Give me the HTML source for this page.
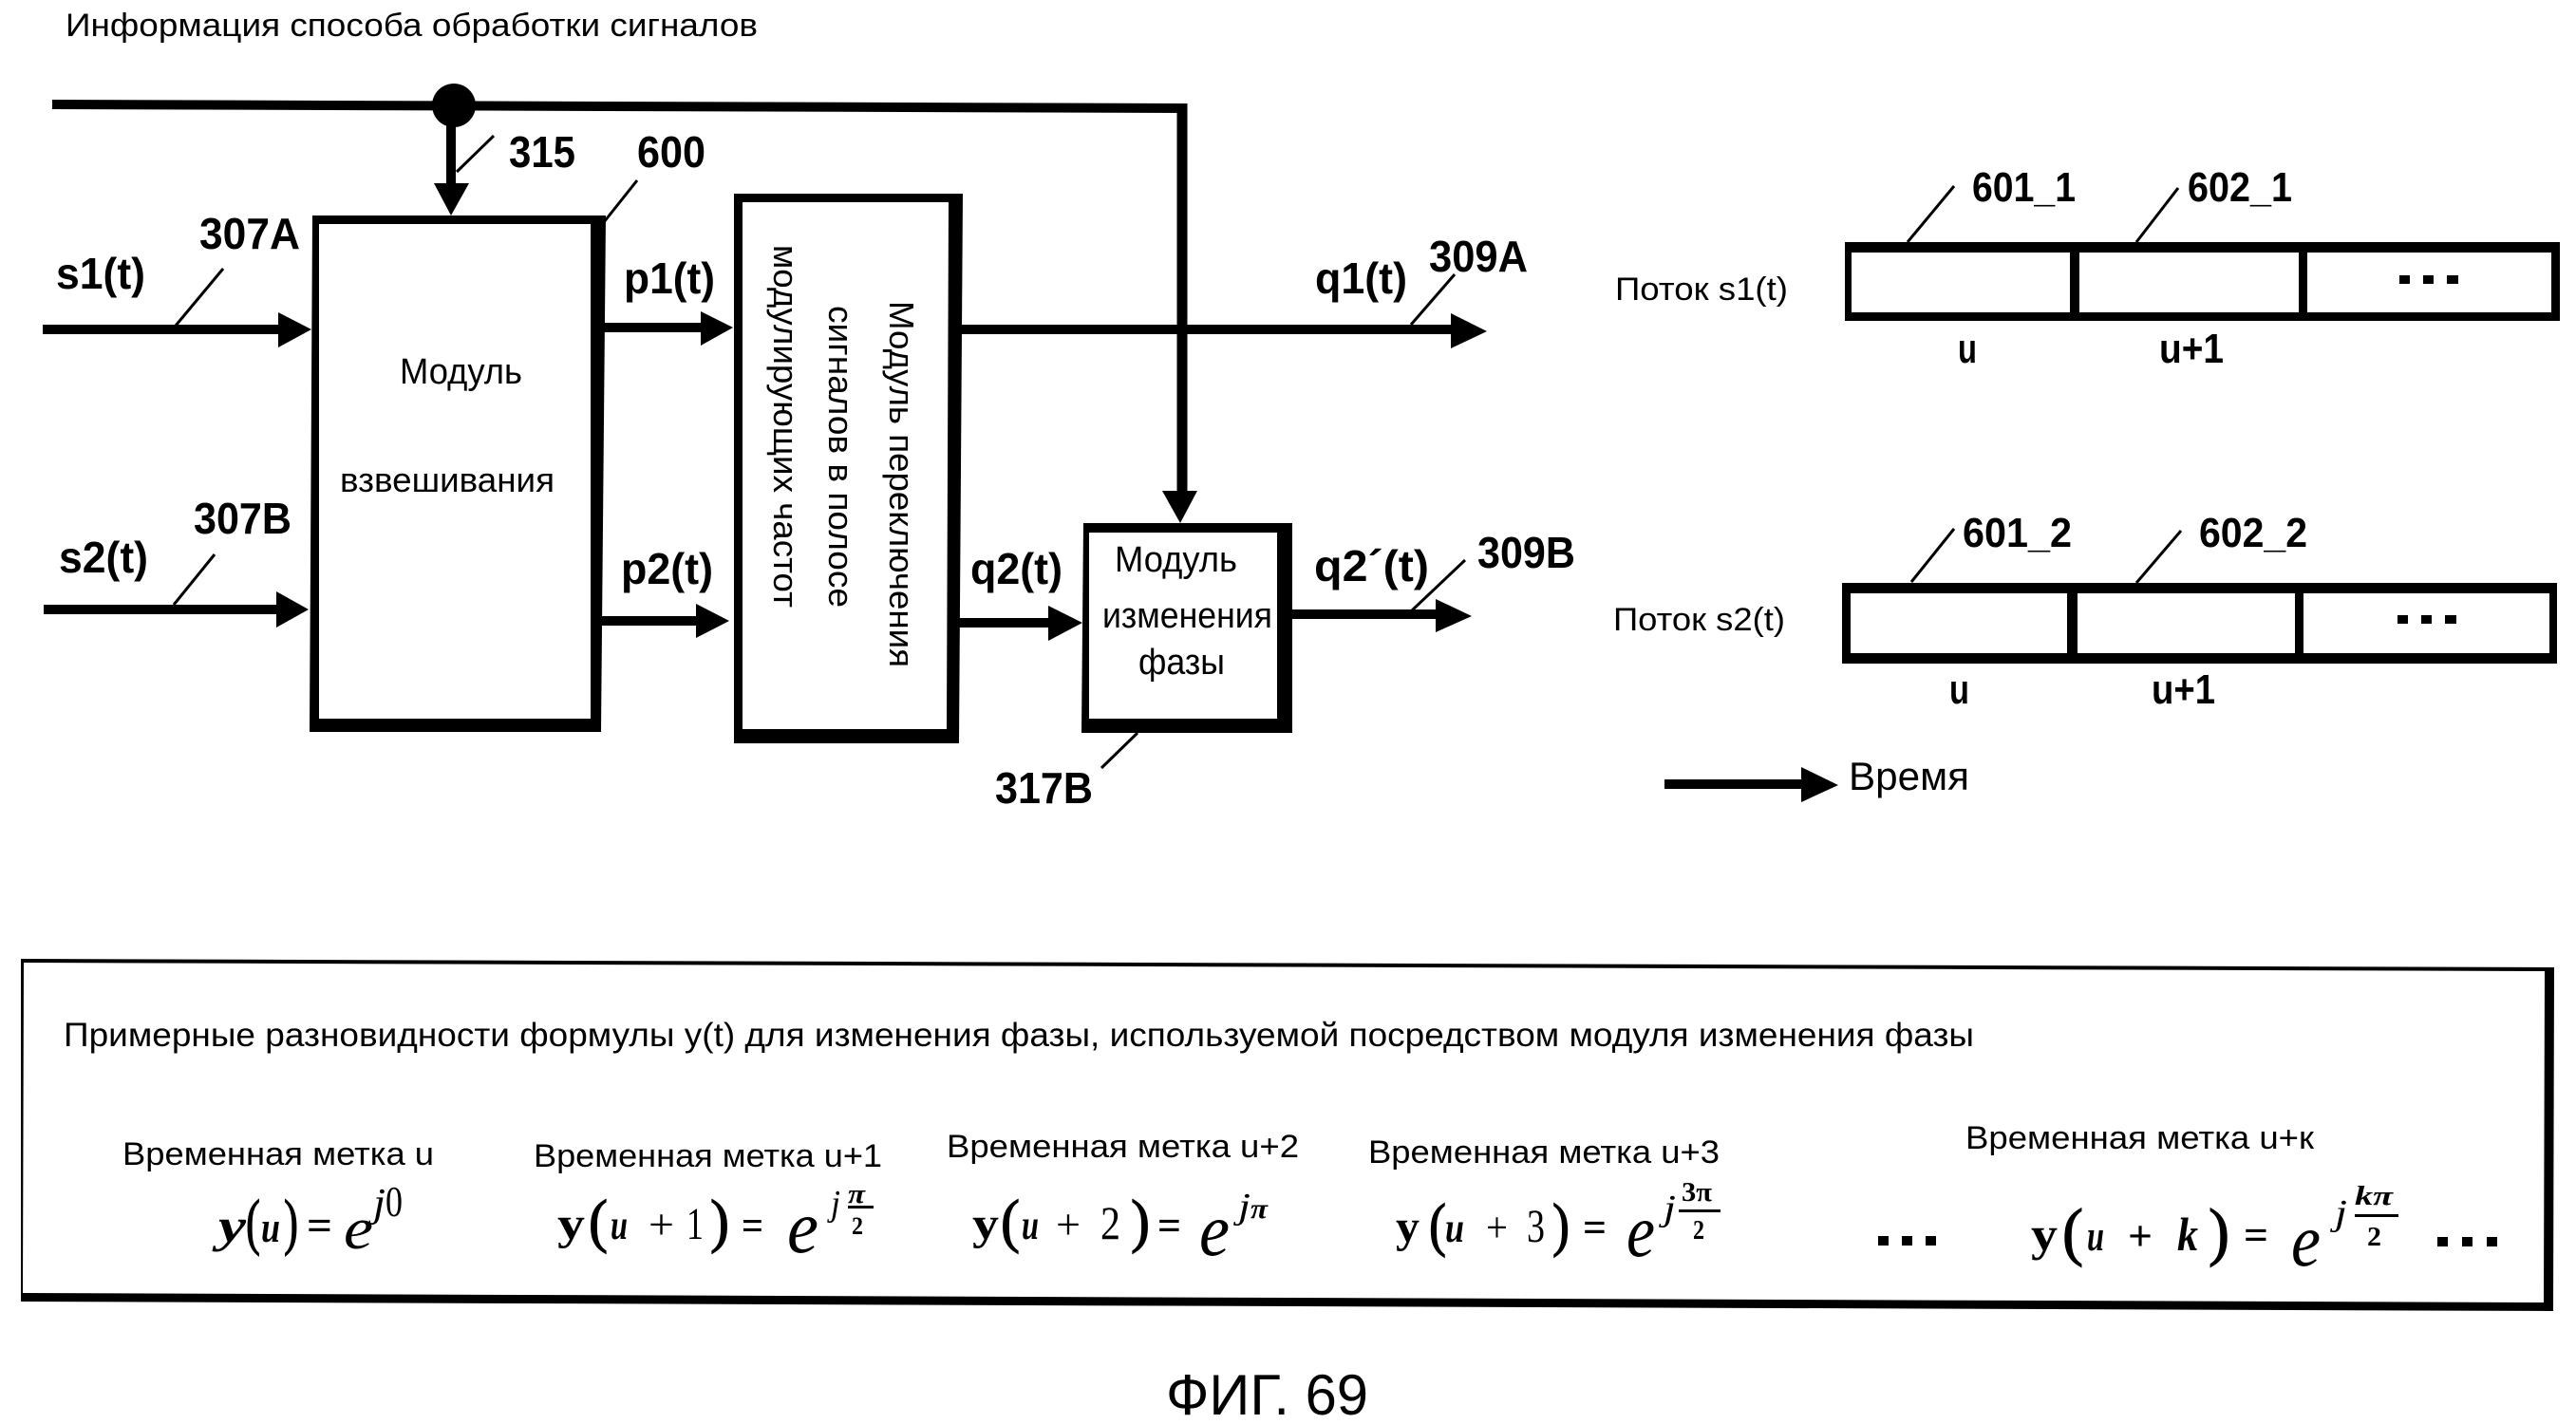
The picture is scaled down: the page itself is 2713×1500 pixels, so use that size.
<!DOCTYPE html>
<html lang="ru">
<head>
<meta charset="utf-8">
<title>ФИГ. 69</title>
<style>
html,body{margin:0;padding:0;background:#fff}
svg{display:block;font-size:36px}
text{fill:#000}
.r{font-family:"Liberation Sans",sans-serif}
.b{font-family:"Liberation Sans",sans-serif;font-weight:bold}
.s{font-family:"Liberation Serif",serif}
.i{font-style:italic}
.w{font-weight:bold}
.p{stroke:#000;stroke-width:1.2}
.l{stroke:#000;stroke-width:3;fill:none}
</style>
</head>
<body>
<svg xmlns="http://www.w3.org/2000/svg" width="2713" height="1500" viewBox="0 0 2713 1500">
<rect width="2713" height="1500" fill="#fff"/>

<text class="r" x="69" y="38" font-size="34" textLength="729" lengthAdjust="spacingAndGlyphs">Информация способа обработки сигналов</text>

<!-- control line -->
<path d="M55 110 L1250 114" stroke="#000" stroke-width="10" fill="none"/>
<path d="M1245 109 V525" stroke="#000" stroke-width="11" fill="none"/>
<polygon points="1224,517 1261,517 1243,551"/>
<circle cx="478" cy="111" r="23"/>
<path d="M475 111 V200" stroke="#000" stroke-width="10" fill="none"/>
<polygon points="457,193 494,193 475,227"/>
<path class="l" d="M481 181 L520 143"/>
<text class="b" font-size="46" x="536" y="176" textLength="70" lengthAdjust="spacingAndGlyphs">315</text>
<text class="b" font-size="46" x="671" y="176" textLength="72" lengthAdjust="spacingAndGlyphs">600</text>
<path class="l" d="M671 190 L636 234"/>

<!-- weight box -->
<path fill-rule="evenodd" d="M329 227 H638 L633 771 H326 Z M336 236 V757 H622 V236 Z"/>
<text class="r" x="421" y="404" font-size="38" textLength="129" lengthAdjust="spacingAndGlyphs">Модуль</text>
<text class="r" x="358" y="518" font-size="36" textLength="226" lengthAdjust="spacingAndGlyphs">взвешивания</text>

<!-- inputs -->
<text class="b" font-size="46" x="59" y="304" textLength="94" lengthAdjust="spacingAndGlyphs">s1(t)</text>
<text class="b" font-size="46" x="210" y="262" textLength="106" lengthAdjust="spacingAndGlyphs">307A</text>
<path class="l" d="M235 283 L185 343"/>
<path d="M45 347 H300" stroke="#000" stroke-width="10" fill="none"/>
<polygon points="293,329 328,347 293,366"/>
<text class="b" font-size="46" x="62" y="603" textLength="94" lengthAdjust="spacingAndGlyphs">s2(t)</text>
<text class="b" font-size="46" x="204" y="562" textLength="103" lengthAdjust="spacingAndGlyphs">307B</text>
<path class="l" d="M226 584 L183 637"/>
<path d="M46 642 H298" stroke="#000" stroke-width="10" fill="none"/>
<polygon points="291,623 325,642 291,661"/>

<!-- outputs of weight -->
<text class="b" font-size="46" x="657" y="309" textLength="96" lengthAdjust="spacingAndGlyphs">p1(t)</text>
<path d="M636 345 H745" stroke="#000" stroke-width="10" fill="none"/>
<polygon points="738,328 772,345 738,364"/>
<text class="b" font-size="46" x="654" y="615" textLength="97" lengthAdjust="spacingAndGlyphs">p2(t)</text>
<path d="M631 654 H740" stroke="#000" stroke-width="10" fill="none"/>
<polygon points="733,636 768,654 733,672"/>

<!-- switch box -->
<path fill-rule="evenodd" d="M773 204 H1014 L1010 783 H773 Z M782 213 V768 H997 L999 213 Z"/>
<text class="r" transform="translate(937 317) rotate(90)" textLength="386" lengthAdjust="spacingAndGlyphs">Модуль переключения</text>
<text class="r" transform="translate(873 322) rotate(90)" textLength="318" lengthAdjust="spacingAndGlyphs">сигналов в полосе</text>
<text class="r" transform="translate(815 258) rotate(90)" textLength="382" lengthAdjust="spacingAndGlyphs">модулирующих частот</text>

<!-- q1 -->
<path d="M1012 347 H1535" stroke="#000" stroke-width="10" fill="none"/>
<polygon points="1528,330 1566,349 1528,367"/>
<text class="b" font-size="46" x="1385" y="309" textLength="97" lengthAdjust="spacingAndGlyphs">q1(t)</text>
<text class="b" font-size="46" x="1505" y="286" textLength="104" lengthAdjust="spacingAndGlyphs">309A</text>
<path class="l" d="M1532 289 L1486 342"/>

<!-- phase box -->
<path fill-rule="evenodd" d="M1141 551 H1361 V772 H1139 Z M1147 561 V757 H1345 V561 Z"/>
<text class="r" x="1174" y="602" font-size="38" textLength="129" lengthAdjust="spacingAndGlyphs">Модуль</text>
<text class="r" x="1161" y="661" font-size="38" textLength="179" lengthAdjust="spacingAndGlyphs">изменения</text>
<text class="r" x="1199" y="710" font-size="38" textLength="91" lengthAdjust="spacingAndGlyphs">фазы</text>
<text class="b" font-size="46" x="1022" y="615" textLength="97" lengthAdjust="spacingAndGlyphs">q2(t)</text>
<path d="M1008 656 H1110" stroke="#000" stroke-width="10" fill="none"/>
<polygon points="1104,638 1140,656 1104,675"/>
<text class="b" font-size="46" x="1384" y="612" textLength="121" lengthAdjust="spacingAndGlyphs">q2´(t)</text>
<text class="b" font-size="46" x="1556" y="598" textLength="103" lengthAdjust="spacingAndGlyphs">309B</text>
<path class="l" d="M1543 590 L1487 643"/>
<path d="M1358 647 H1518" stroke="#000" stroke-width="10" fill="none"/>
<polygon points="1512,631 1550,649 1512,666"/>
<text class="b" font-size="46" x="1048" y="846" textLength="103" lengthAdjust="spacingAndGlyphs">317B</text>
<path class="l" d="M1198 772 L1160 809"/>

<!-- stream 1 -->
<text class="r" x="1701" y="316" font-size="34" textLength="182" lengthAdjust="spacingAndGlyphs">Поток s1(t)</text>
<path fill-rule="evenodd" d="M1943 255 H2696 V338 H1943 Z M1950 266 V329 H2180 V266 Z M2190 266 V329 H2421 V266 Z M2430 266 V329 H2687 V266 Z"/>
<rect x="2527" y="290" width="11" height="9"/><rect x="2552" y="290" width="11" height="9"/><rect x="2577" y="290" width="12" height="9"/>
<text class="b" font-size="44" x="2077" y="212" textLength="109" lengthAdjust="spacingAndGlyphs">601_1</text>
<path class="l" d="M2058 196 L2009 255"/>
<text class="b" font-size="44" x="2304" y="212" textLength="110" lengthAdjust="spacingAndGlyphs">602_1</text>
<path class="l" d="M2294 198 L2250 255"/>
<text class="b" font-size="44" x="2062" y="382" textLength="20" lengthAdjust="spacingAndGlyphs">u</text>
<text class="b" font-size="44" x="2274" y="382" textLength="68" lengthAdjust="spacingAndGlyphs">u+1</text>

<!-- stream 2 -->
<text class="r" x="1699" y="664" font-size="34" textLength="181" lengthAdjust="spacingAndGlyphs">Поток s2(t)</text>
<path fill-rule="evenodd" d="M1940 614 H2693 V699 H1940 Z M1949 625 V688 H2177 V625 Z M2188 625 V688 H2417 V625 Z M2426 625 V688 H2685 V625 Z"/>
<rect x="2525" y="648" width="11" height="9"/><rect x="2550" y="648" width="11" height="9"/><rect x="2575" y="648" width="12" height="9"/>
<text class="b" font-size="44" x="2067" y="576" textLength="115" lengthAdjust="spacingAndGlyphs">601_2</text>
<path class="l" d="M2058 557 L2013 613"/>
<text class="b" font-size="44" x="2316" y="576" textLength="114" lengthAdjust="spacingAndGlyphs">602_2</text>
<path class="l" d="M2297 559 L2250 614"/>
<text class="b" font-size="44" x="2053" y="741" textLength="21" lengthAdjust="spacingAndGlyphs">u</text>
<text class="b" font-size="44" x="2266" y="741" textLength="67" lengthAdjust="spacingAndGlyphs">u+1</text>

<!-- time -->
<path d="M1753 826 H1902" stroke="#000" stroke-width="10" fill="none"/>
<polygon points="1897,808 1936,827 1897,845"/>
<text class="r" x="1947" y="832" font-size="42" textLength="127" lengthAdjust="spacingAndGlyphs">Время</text>

<!-- panel -->
<path fill-rule="evenodd" d="M22 1010 L2690 1019 L2689 1381 L22 1371 Z M25 1014 L24 1362 L2679 1372 L2680 1023 Z"/>
<text class="r" x="67" y="1102" font-size="35" textLength="2012" lengthAdjust="spacingAndGlyphs">Примерные разновидности формулы y(t) для изменения фазы, используемой посредством модуля изменения фазы</text>
<text class="r" x="129" y="1227" font-size="34" textLength="328" lengthAdjust="spacingAndGlyphs">Временная метка u</text>
<text class="r" x="562" y="1229" font-size="34" textLength="367" lengthAdjust="spacingAndGlyphs">Временная метка u+1</text>
<text class="r" x="997" y="1219" font-size="34" textLength="371" lengthAdjust="spacingAndGlyphs">Временная метка u+2</text>
<text class="r" x="1441" y="1225" font-size="34" textLength="370" lengthAdjust="spacingAndGlyphs">Временная метка u+3</text>
<text class="r" x="2070" y="1210" font-size="34" textLength="367" lengthAdjust="spacingAndGlyphs">Временная метка u+к</text>

<!-- eq 1 -->
<g>
<text class="s i w" x="230" y="1308" font-size="50" textLength="29" lengthAdjust="spacingAndGlyphs">y</text>
<text class="s p" x="259" y="1309" font-size="66" textLength="15" lengthAdjust="spacingAndGlyphs">(</text>
<text class="s i w" x="275" y="1308" font-size="46" textLength="20" lengthAdjust="spacingAndGlyphs">u</text>
<text class="s p" x="299" y="1309" font-size="66" textLength="15" lengthAdjust="spacingAndGlyphs">)</text>
<text class="s w" x="323" y="1306" font-size="46" textLength="27" lengthAdjust="spacingAndGlyphs">=</text>
<text class="s i" x="362" y="1315" font-size="62" textLength="31" lengthAdjust="spacingAndGlyphs">e</text>
<text class="s i" x="393" y="1281" font-size="42" textLength="13" lengthAdjust="spacingAndGlyphs">j</text>
<text class="s" x="406" y="1281" font-size="46" textLength="18" lengthAdjust="spacingAndGlyphs">0</text>
</g>

<!-- eq 2 -->
<g>
<text class="s w" x="587" y="1305" font-size="48" textLength="29" lengthAdjust="spacingAndGlyphs">y</text>
<text class="s p" x="620" y="1307" font-size="62" textLength="20" lengthAdjust="spacingAndGlyphs">(</text>
<text class="s i w" x="643" y="1305" font-size="44" textLength="18" lengthAdjust="spacingAndGlyphs">u</text>
<text class="s" x="683" y="1305" font-size="46" textLength="27" lengthAdjust="spacingAndGlyphs">+</text>
<text class="s" x="723" y="1305" font-size="48" textLength="18" lengthAdjust="spacingAndGlyphs">1</text>
<text class="s p" x="748" y="1307" font-size="62" textLength="20" lengthAdjust="spacingAndGlyphs">)</text>
<text class="s w" x="781" y="1306" font-size="44" textLength="23" lengthAdjust="spacingAndGlyphs">=</text>
<text class="s i" x="829" y="1319" font-size="78" textLength="33" lengthAdjust="spacingAndGlyphs">e</text>
<text class="s i" x="875" y="1280" font-size="38" textLength="10" lengthAdjust="spacingAndGlyphs">j</text>
<text class="s i w" x="893" y="1267" font-size="28" textLength="18" lengthAdjust="spacingAndGlyphs">π</text>
<rect x="893" y="1270" width="27" height="3"/>
<text class="s w" x="897" y="1300" font-size="26" textLength="12" lengthAdjust="spacingAndGlyphs">2</text>
</g>

<!-- eq 3 -->
<g>
<text class="s w" x="1024" y="1305" font-size="48" textLength="28" lengthAdjust="spacingAndGlyphs">y</text>
<text class="s p" x="1054" y="1307" font-size="62" textLength="20" lengthAdjust="spacingAndGlyphs">(</text>
<text class="s i w" x="1076" y="1305" font-size="44" textLength="18" lengthAdjust="spacingAndGlyphs">u</text>
<text class="s" x="1112" y="1305" font-size="46" textLength="26" lengthAdjust="spacingAndGlyphs">+</text>
<text class="s" x="1159" y="1305" font-size="50" textLength="21" lengthAdjust="spacingAndGlyphs">2</text>
<text class="s p" x="1191" y="1307" font-size="62" textLength="20" lengthAdjust="spacingAndGlyphs">)</text>
<text class="s w" x="1219" y="1306" font-size="46" textLength="25" lengthAdjust="spacingAndGlyphs">=</text>
<text class="s i" x="1263" y="1322" font-size="78" textLength="32" lengthAdjust="spacingAndGlyphs">e</text>
<text class="s i" x="1304" y="1283" font-size="38" textLength="13" lengthAdjust="spacingAndGlyphs">j</text>
<text class="s i w" x="1317" y="1283" font-size="30" textLength="18" lengthAdjust="spacingAndGlyphs">π</text>
</g>

<!-- eq 4 -->
<g>
<text class="s w" x="1470" y="1308" font-size="48" textLength="25" lengthAdjust="spacingAndGlyphs">y</text>
<text class="s p" x="1505" y="1311" font-size="62" textLength="18" lengthAdjust="spacingAndGlyphs">(</text>
<text class="s i w" x="1522" y="1308" font-size="44" textLength="20" lengthAdjust="spacingAndGlyphs">u</text>
<text class="s" x="1565" y="1308" font-size="46" textLength="23" lengthAdjust="spacingAndGlyphs">+</text>
<text class="s" x="1608" y="1308" font-size="50" textLength="19" lengthAdjust="spacingAndGlyphs">3</text>
<text class="s p" x="1635" y="1311" font-size="62" textLength="18" lengthAdjust="spacingAndGlyphs">)</text>
<text class="s w" x="1667" y="1308" font-size="46" textLength="25" lengthAdjust="spacingAndGlyphs">=</text>
<text class="s i" x="1713" y="1323" font-size="78" textLength="30" lengthAdjust="spacingAndGlyphs">e</text>
<text class="s i" x="1752" y="1285" font-size="38" textLength="13" lengthAdjust="spacingAndGlyphs">j</text>
<text class="s w" x="1771" y="1265" font-size="28" textLength="32" lengthAdjust="spacingAndGlyphs">3π</text>
<rect x="1768" y="1274" width="44" height="3"/>
<text class="s w" x="1783" y="1305" font-size="28" textLength="12" lengthAdjust="spacingAndGlyphs">2</text>
</g>

<rect x="1978" y="1302" width="11" height="10"/><rect x="2003" y="1302" width="11" height="10"/><rect x="2028" y="1302" width="11" height="10"/>

<!-- eq 5 -->
<g>
<text class="s w" x="2139" y="1317" font-size="50" textLength="28" lengthAdjust="spacingAndGlyphs">y</text>
<text class="s p" x="2172" y="1320" font-size="68" textLength="22" lengthAdjust="spacingAndGlyphs">(</text>
<text class="s i w" x="2198" y="1317" font-size="46" textLength="18" lengthAdjust="spacingAndGlyphs">u</text>
<text class="s w" x="2241" y="1317" font-size="46" textLength="26" lengthAdjust="spacingAndGlyphs">+</text>
<text class="s i w" x="2293" y="1317" font-size="50" textLength="22" lengthAdjust="spacingAndGlyphs">k</text>
<text class="s p" x="2326" y="1320" font-size="68" textLength="22" lengthAdjust="spacingAndGlyphs">)</text>
<text class="s w" x="2363" y="1316" font-size="46" textLength="26" lengthAdjust="spacingAndGlyphs">=</text>
<text class="s i" x="2413" y="1333" font-size="78" textLength="31" lengthAdjust="spacingAndGlyphs">e</text>
<text class="s i" x="2459" y="1290" font-size="38" textLength="13" lengthAdjust="spacingAndGlyphs">j</text>
<text class="s i w" x="2480" y="1269" font-size="28" textLength="40" lengthAdjust="spacingAndGlyphs">kπ</text>
<rect x="2480" y="1279" width="46" height="3"/>
<text class="s w" x="2493" y="1312" font-size="28" textLength="15" lengthAdjust="spacingAndGlyphs">2</text>
</g>

<rect x="2567" y="1303" width="11" height="10"/><rect x="2593" y="1303" width="11" height="10"/><rect x="2619" y="1303" width="11" height="10"/>

<text class="r" x="1228" y="1490" font-size="60" textLength="213" lengthAdjust="spacingAndGlyphs">ФИГ. 69</text>
</svg>
</body>
</html>
